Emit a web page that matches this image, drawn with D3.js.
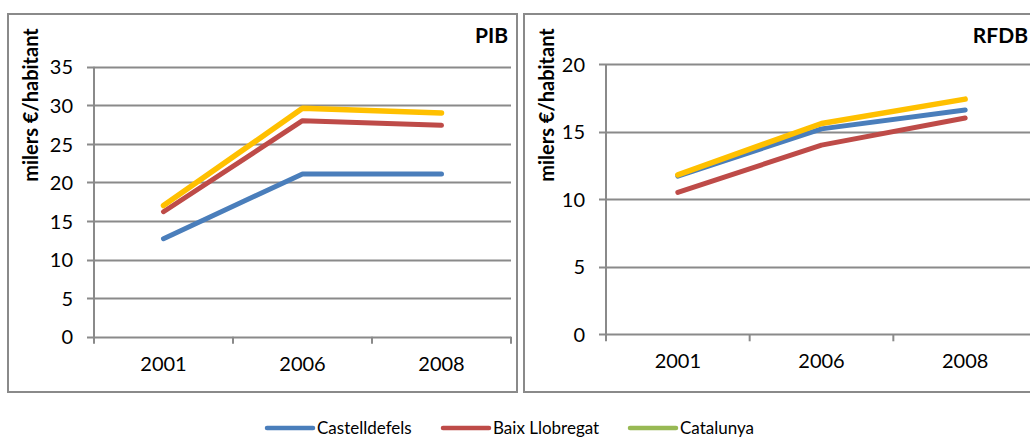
<!DOCTYPE html>
<html>
<head>
<meta charset="utf-8">
<script src="https://cdn.jsdelivr.net/npm/d3@7"></script>
<style>
  body { margin: 0; background: #fff; }
  svg { display: block; }
  text { font-family: Lato, "Open Sans", sans-serif; fill: #000; }
</style>
</head>
<body>
<div id="chart"></div>
<script>
var years = ["2001", "2006", "2008"];
var seriesNames = ["Castelldefels", "Baix Llobregat", "Catalunya"];

// PIB, milers €/habitant
var pibCastelldefels = [12.7, 21.1, 21.1];
var pibBaix = [16.2, 28.0, 27.4];
var pibCatalunya = [17.0, 29.6, 29.0];
var pibTicks = [0, 5, 10, 15, 20, 25, 30, 35];

// RFDB, milers €/habitant
var rfdbCastelldefels = [11.7, 15.2, 16.6];
var rfdbBaix = [10.5, 14.0, 16.0];
var rfdbCatalunya = [11.8, 15.6, 17.4];
var rfdbTicks = [0, 5, 10, 15, 20];

var lineColors = ["#4A7EBB", "#BE4B48", "#FFC000"];
var legendColors = ["#4A7EBB", "#BE4B48", "#98B954"];
var gridColor = "#8a8a8a";

var W = 1030, H = 438;

var svg = d3.select("#chart").append("svg")
  .attr("width", W)
  .attr("height", H);

function drawPanel(opts) {
  var g = svg.append("g");

  // outer frame
  g.append("rect")
    .attr("x", opts.frame[0]).attr("y", opts.frame[1])
    .attr("width", opts.frame[2]).attr("height", opts.frame[3])
    .attr("fill", "#fff")
    .attr("stroke", gridColor)
    .attr("stroke-width", 2);

  var x = d3.scaleBand()
    .domain(years)
    .range([opts.left, opts.right])
    .padding(0);

  var y = d3.scaleLinear()
    .domain([0, d3.max(opts.ticks)])
    .range([opts.bottom, opts.top]);

  // horizontal gridlines (incl. the little tick to the left)
  g.selectAll(".grid")
    .data(opts.ticks)
    .enter().append("line")
    .attr("x1", opts.left - 7)
    .attr("x2", opts.right)
    .attr("y1", function(d) { return Math.round(y(d)) + 0.5; })
    .attr("y2", function(d) { return Math.round(y(d)) + 0.5; })
    .attr("stroke", gridColor)
    .attr("stroke-width", 2);

  // y axis line
  g.append("line")
    .attr("x1", opts.left).attr("x2", opts.left)
    .attr("y1", y(d3.max(opts.ticks))).attr("y2", opts.bottom + 7)
    .attr("stroke", gridColor)
    .attr("stroke-width", 2);

  // x category boundary ticks
  var bounds = years.map(function(d) { return x(d); }).concat([opts.right]);
  g.selectAll(".xtick")
    .data(bounds.slice(1))
    .enter().append("line")
    .attr("x1", function(d) { return d; })
    .attr("x2", function(d) { return d; })
    .attr("y1", opts.bottom)
    .attr("y2", opts.bottom + 7)
    .attr("stroke", gridColor)
    .attr("stroke-width", 2);

  // y tick labels
  var yAxis = d3.axisLeft(y).tickValues(opts.ticks).tickSize(0).tickPadding(21);
  var ya = g.append("g")
    .attr("transform", "translate(" + opts.left + ",0)")
    .call(yAxis);
  ya.select(".domain").remove();
  ya.selectAll("text")
    .style("font-size", "20px")
    .attr("dy", "0.36em");

  // x tick labels
  var xAxis = d3.axisBottom(x).tickSize(0).tickPadding(20);
  var xa = g.append("g")
    .attr("transform", "translate(0," + opts.bottom + ")")
    .call(xAxis);
  xa.select(".domain").remove();
  xa.selectAll("text")
    .style("font-size", "20px");

  // axis title
  g.append("text")
    .attr("transform", "translate(" + (opts.frame[0] + 23) + "," + 105 + ") rotate(-90)")
    .attr("text-anchor", "middle")
    .attr("dy", "0.35em")
    .style("font-size", "20px")
    .style("font-weight", "bold")
    .text("milers €/habitant");

  // panel title
  g.append("text")
    .attr("x", opts.titleX)
    .attr("y", 43)
    .attr("text-anchor", "end")
    .style("font-size", "21px")
    .style("font-weight", "bold")
    .text(opts.title);

  var line = d3.line()
    .x(function(d, i) { return x(years[i]) + x.bandwidth() / 2; })
    .y(function(d) { return y(d); });

  opts.series.forEach(function(s, i) {
    g.append("path")
      .datum(s)
      .attr("d", line)
      .attr("fill", "none")
      .attr("stroke", lineColors[i])
      .attr("stroke-width", i == 2 ? 5.5 : 5)
      .attr("stroke-linecap", "round")
      .attr("stroke-linejoin", "round");
  });
}

drawPanel({
  frame: [8, 14, 509, 378],
  left: 94, right: 511, top: 66.7, bottom: 336.7,
  ticks: pibTicks,
  title: "PIB", titleX: 508,
  series: [pibCastelldefels, pibBaix, pibCatalunya]
});

drawPanel({
  frame: [524, 14, 520, 378],
  left: 606, right: 1037, top: 64, bottom: 334.3,
  ticks: rfdbTicks,
  title: "RFDB", titleX: 1028,
  series: [rfdbCastelldefels, rfdbBaix, rfdbCatalunya]
});

// legend
var legendX = [267, 443, 630];
var legend = svg.append("g").attr("transform", "translate(0,428)");
seriesNames.forEach(function(name, i) {
  legend.append("line")
    .attr("x1", legendX[i]).attr("x2", legendX[i] + 46)
    .attr("y1", 0).attr("y2", 0)
    .attr("stroke", legendColors[i])
    .attr("stroke-width", 4.5)
    .attr("stroke-linecap", "round");
  legend.append("text")
    .attr("x", legendX[i] + 50)
    .attr("y", 0)
    .attr("dy", "0.36em")
    .style("font-size", "17px")
    .text(name);
});
</script>
</body>
</html>
